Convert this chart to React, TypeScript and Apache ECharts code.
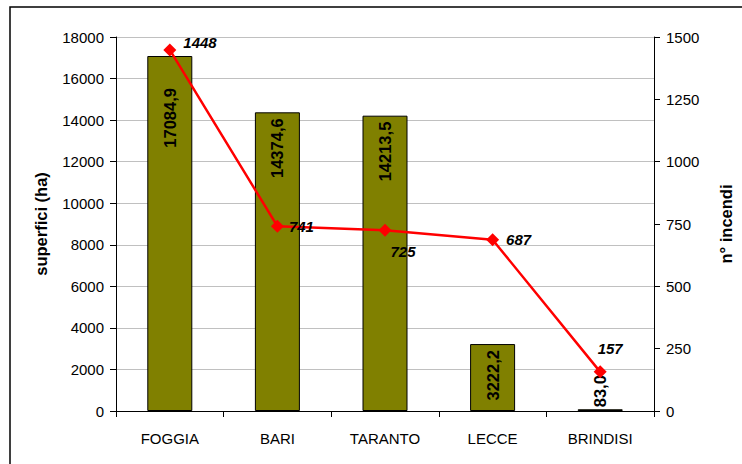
import React, { useEffect, useRef } from "react";
import * as echarts from "echarts";

const categories = ["FOGGIA", "BARI", "TARANTO", "LECCE", "BRINDISI"];
const superfici = [17084.9, 14374.6, 14213.5, 3222.2, 83.0];
const incendi = [1448, 741, 725, 687, 157];

const FONT = "'Liberation Sans', Arial, sans-serif";

export default function App() {
  const ref = useRef<HTMLDivElement>(null);
  useEffect(() => {
    if (!ref.current) return;
    const chart = echarts.init(ref.current, null, { renderer: "svg" });
    const fmt = (v: number) => v.toFixed(1).replace(".", ",");
    const barLabelBase = {
      show: true,
      position: "insideTop",
      rotate: 90,
      align: "right",
      verticalAlign: "middle",
      distance: 6,
      fontFamily: FONT,
      fontWeight: "bold",
      fontSize: 16.5,
      color: "#000",
      formatter: (p: any) => fmt(p.value),
    };
    const barData = superfici.map((v, i) => {
      if (v < 1000) {
        return {
          value: v,
          label: { position: "top", align: "left", distance: 2 },
        };
      }
      if (i === 0) {
        return { value: v, label: { distance: 32 } };
      }
      return { value: v };
    });
    const linePos: any[] = [
      { position: "right", offset: [2, -7] },
      { position: "right", offset: [0, 0] },
      { position: "bottom", offset: [18, 2] },
      { position: "right", offset: [2, 0] },
      { position: "top", offset: [10, -4] },
    ];
    const lineData = incendi.map((v, i) => ({ value: v, label: linePos[i] }));
    chart.setOption({
      animation: false,
      backgroundColor: "#fff",
      textStyle: { fontFamily: FONT },
      graphic: [
        {
          type: "rect",
          shape: { x: 10, y: 7, width: 800, height: 500 },
          style: { fill: "none", stroke: "#000", lineWidth: 1.5 },
          silent: true,
        },
      ],
      grid: { left: 116, right: 84, top: 37, bottom: 53 },
      xAxis: {
        type: "category",
        data: categories,
        axisLine: { show: true, lineStyle: { color: "#000", width: 1 } },
        axisTick: { show: true, length: 6, lineStyle: { color: "#000" } },
        axisLabel: { color: "#000", fontSize: 15, margin: 20, fontFamily: FONT },
      },
      yAxis: [
        {
          type: "value",
          min: 0,
          max: 18000,
          interval: 2000,
          name: "superfici (ha)",
          nameLocation: "middle",
          nameGap: 67,
          nameTextStyle: { fontSize: 16.5, fontWeight: "bold", color: "#000", fontFamily: FONT },
          axisLine: { show: true, lineStyle: { color: "#000", width: 1 } },
          axisTick: { show: true, length: 6, lineStyle: { color: "#000" } },
          axisLabel: {
            color: "#000",
            fontSize: 15,
            margin: 12,
            fontFamily: FONT,
            formatter: (v: number) => String(v),
          },
          splitLine: { show: true, lineStyle: { color: "#c0c0c0", width: 1 } },
        },
        {
          type: "value",
          min: 0,
          max: 1500,
          interval: 250,
          name: "n° incendi",
          nameLocation: "middle",
          nameGap: 63,
          nameRotate: 90,
          nameTextStyle: { fontSize: 16.5, fontWeight: "bold", color: "#000", fontFamily: FONT },
          axisLine: { show: true, lineStyle: { color: "#000", width: 1 } },
          axisTick: { show: true, length: 6, lineStyle: { color: "#000" } },
          axisLabel: {
            color: "#000",
            fontSize: 15,
            margin: 12,
            fontFamily: FONT,
            formatter: (v: number) => String(v),
          },
          splitLine: { show: false },
        },
      ],
      series: [
        {
          type: "bar",
          yAxisIndex: 0,
          data: barData,
          barWidth: 45,
          itemStyle: { color: "#808000", borderColor: "#000", borderWidth: 1 },
          label: barLabelBase,
        },
        {
          type: "line",
          yAxisIndex: 1,
          data: lineData,
          symbol: "diamond",
          symbolSize: 13,
          lineStyle: { color: "#ff0000", width: 2.5 },
          itemStyle: { color: "#ff0000" },
          label: {
            show: true,
            fontFamily: FONT,
            fontWeight: "bold",
            fontStyle: "italic",
            fontSize: 15,
            color: "#000",
          },
        },
      ],
    });
    return () => chart.dispose();
  }, []);
  return (
    <div
      ref={ref}
      style={{ position: "fixed", left: 0, top: 0, width: 742, height: 464 }}
    />
  );
}
